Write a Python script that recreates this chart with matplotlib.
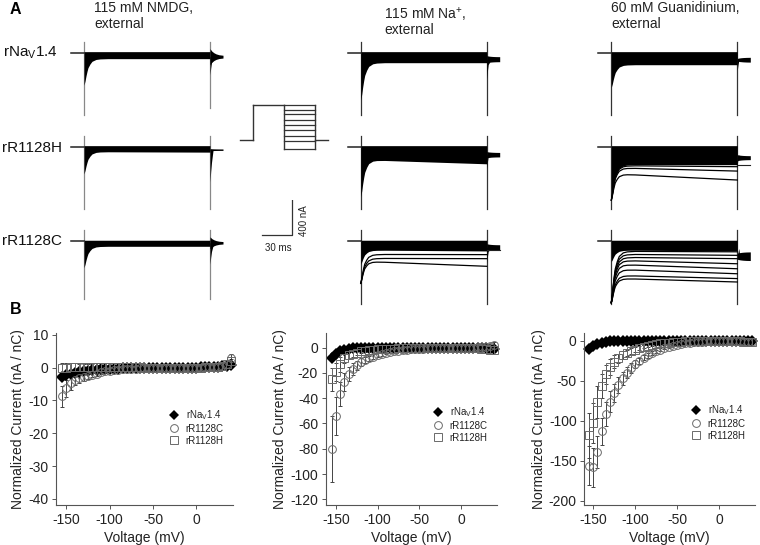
import matplotlib
matplotlib.use("Agg")
import matplotlib.pyplot as plt
import numpy as np
from matplotlib.lines import Line2D

plt.rcParams['font.family'] = ['Liberation Sans', 'DejaVu Sans']
plt.rcParams['mathtext.fontset'] = 'custom'
plt.rcParams['mathtext.rm'] = 'Liberation Sans'
plt.rcParams['mathtext.default'] = 'rm'
plt.rcParams['axes.unicode_minus'] = False

W, H = 760, 545

# ---------- panel B data ----------
voltage = list(range(-155, 45, 5))  # 40 points

wt1 = [-2.8,-2.2,-1.8,-1.5,-1.2,-1.0,-.85,-.7,-.6,-.5,-.4,-.35,-.3,-.25,-.2,-.18,-.15,-.12,-.1,-.1,
       -.08,-.06,-.05,-.04,-.03,-.02,-.01,0,0,0,.02,.05,.08,.1,.15,.2,.3,.45,.6,.9]
c1 = [-8.7,-6.3,-4.8,-3.7,-3.2,-2.8,-2.5,-2.1,-1.8,-1.4,-1.1,-.9,-.7,-.55,-.45,-.35,-.3,-.25,-.2,-.15,
      -.12,-.1,-.08,-.05,-.03,-.02,0,0,0,0,0,.03,.05,.08,.1,.15,.3,.6,1.2,3.0]
c1e = [3.2,2.7,2.0,1.6,1.4,1.2,1.0,.8,.7,.6,.5,.4,.3,.25,.2,.15,.1,.1,.1,.1,
       .1,.1,.1,.1,.1,.1,.1,.1,.1,.1,.1,.1,.1,.1,.1,.15,.2,.4,.7,1.3]
h1 = [-.2,0,.1,.2,.25,.3,.3,.3,.3,.3,.3,.3,.25,.2,.2,.15,.1,.1,.1,.05,
      .05,0,0,0,0,0,0,0,0,0,0,.03,.05,.08,.1,.15,.25,.5,1.0,2.0]
h1e = [1.6,1.4,1.2,1.1,1.0,.9,.8,.7,.6,.5,.45,.4,.3,.25,.2,.15,.1,.1,.1,.1,
       .1,.1,.1,.1,.1,.1,.1,.1,.1,.1,.1,.1,.1,.1,.1,.15,.2,.3,.5,.8]

wt2 = [-8,-5,-3,-1.5,-.8,-.4,-.3,-.25,-.2,-.2,-.2,-.15,-.15,-.15,-.1,-.1,-.1,-.1,-.1,-.1,
       -.1,-.1,-.1,-.1,-.1,-.1,-.1,-.1,-.1,-.1,-.1,-.2,-.2,-.3,-.3,-.4,-.5,-.6,-.8,-1]
c2 = [-80,-54,-37,-27,-21,-17,-14,-11.5,-10,-8.5,-7,-6,-5,-4.2,-3.5,-3,-2.5,-2.1,-1.7,-1.4,
      -1.1,-.9,-.7,-.5,-.4,-.3,-.2,-.1,-.1,0,0,0,0,.1,.1,.2,.3,.5,1,2]
c2e = [26,15,9.5,7,5.5,4.5,3.5,3,2.5,2.2,2,1.7,1.4,1.2,1,.8,.7,.6,.5,.4,
       .3,.3,.2,.2,.2,.2,.2,.2,.2,.2,.2,.2,.2,.2,.2,.3,.4,.6,1,2.5]
h2 = [-25,-19,-13,-8.5,-6,-5,-4,-3,-2.5,-2,-1.7,-1.4,-1.2,-1,-.8,-.7,-.6,-.5,-.4,-.3,
      -.3,-.2,-.2,-.2,-.1,-.1,-.1,-.1,-.1,-.1,-.1,-.2,-.3,-.4,-.5,-.6,-.8,-1,-1.5,-2]
h2e = [9,7,6,4,3,2.5,2,1.6,1.3,1.1,.9,.8,.7,.6,.5,.4,.3,.3,.2,.2,
       .2,.2,.2,.2,.2,.2,.2,.2,.2,.2,.2,.2,.2,.2,.2,.3,.4,.5,.8,1.5]

wt3 = [-10,-6.5,-4,-2.5,-1.5,-1,-.8,-.6,-.5,-.4,-.4,-.3,-.3,-.3,-.3,-.3,-.2,-.2,-.2,-.2,
       -.2,-.2,-.2,-.2,-.2,-.2,-.2,-.2,-.2,-.2,-.2,-.2,-.2,-.3,-.3,-.3,-.4,-.4,-.5,-.5]
c3 = [-156,-158,-139,-113,-92,-76,-65,-55,-47,-40,-34,-29,-25,-21,-18,-15,-13,-11,-9,-7.5,
      -6,-5,-4,-3.3,-2.6,-2,-1.6,-1.2,-1,-.8,-.6,-.5,-.5,-.5,-.6,-.8,-1,-1.3,-1.6,-2]
c3e = [24,24,20,17,15,13,11,10,8,7,6,5,4,3.5,3,2.5,2,1.8,1.5,1.2,
       1,.8,.7,.6,.5,.4,.3,.3,.3,.3,.3,.3,.3,.3,.3,.3,.3,.4,.5,.6]
h3 = [-118,-103,-77,-56,-42,-33,-26,-22,-18,-15,-13,-11,-9,-7.5,-6,-5,-4.2,-3.5,-2.9,-2.4,
      -2,-1.6,-1.3,-1,-.8,-.6,-.5,-.4,-.3,-.3,-.3,-.3,-.4,-.5,-.6,-.7,-.9,-1.1,-1.3,-1.5]
h3e = [28,25,20,15,12,10,8,6,5,4,3.5,3,2.5,2,1.7,1.4,1.2,1,.8,.7,
       .6,.5,.4,.4,.3,.3,.3,.3,.3,.3,.3,.3,.3,.3,.3,.3,.3,.4,.4,.5]

yticks1 = [10, 0, -10, -20, -30, -40]
yticks2 = [0, -20, -40, -60, -80, -100, -120]
yticks3 = [0, -50, -100, -150, -200]
xticks = [-150, -100, -50, 0]
series_names = ['rNa$_{\\mathrm{V}}$1.4', 'rR1128C', 'rR1128H']

# ---------- panel A data (nA, ms) ----------
row_names = ['rNa$_{\\mathrm{V}}$1.4', 'rR1128H', 'rR1128C']
step_off = 126
stub_t = -13
tail_t = [126, 127, 128, 130, 132, 135, 139]
tail_frac = [1, .8, .62, .4, .25, .12, .05]
decay_t = [0, 1, 2, 3, 4, 6, 8, 12, 16, 24, 126]
decay_frac = [1, .85, .65, .48, .34, .2, .1, .03, .01, 0, 0]
time_grid = [0, .5, 1, 1.5, 2, 2.5, 3, 3.5, 4, 5, 6, 7, 8, 10, 12, 14, 16, 20, 24, 40, 60, 80, 100, 126]

band_start = [[68, 57, 57], [114, 148, 100], [137, 205, 100]]
band_end = [[68, 62, 57], [114, 195, 110], [137, 205, 110]]
spike_peak = [[370, 310, 300], [540, 570, 260], [395, 610, 230]]
line_peak = [[0, 0, 0], [0, 0, 480], [0, 610, 700]]
line_top = [[120, 120, 125], [120, 120, 125], [120, 120, 125]]
line_bottom = [[712, 712, 660], [712, 712, 712], [712, 712, 712]]
off_bottom = [[633, 712, 660], [712, 712, 712], [712, 712, 712]]
off_peak = [[250, 400, 260], [300, 250, 250], [200, 200, 180]]
tail_center = [[45, 34, 17], [74, 91, 68], [80, 125, 170]]
tail_half0 = [[91, 12, 68], [40, 35, 40], [15, 34, 34]]
tail_half1 = [[12, 8, 11], [28, 25, 28], [28, 22, 50]]
tail_lines = [[[], [], []], [[], [], [100]], [[], [205], []]]
extra_start = [[[], [], []],
               [[], [], [150, 195, 228]],
               [[], [216, 240, 308], [114, 148, 182, 216, 262, 319, 388, 422]]]
extra_end = [[[], [], []],
             [[], [], [152, 198, 285]],
             [[], [228, 278, 380], [120, 160, 198, 256, 313, 370, 425, 464]]]

rungs_mv = [40, 16, 0, -24, -48, -72, -96, -120, -155]
hold_mv = -115
prepulse_mv = 40
proto_t = [-44, -31, 0, 31, 44]  # ms relative to rung onset

fig = plt.figure(figsize=(W/100, H/100), dpi=100)
fig.patch.set_facecolor('white')


def pxaxes(x0, y0, x1, y1):
    return fig.add_axes([x0/W, 1-y1/H, (x1-x0)/W, (y1-y0)/H])


# ---- traces ----
col_step = [84, 360.7, 611.3]
row_base = [52.7, 146.7, 241.3]
NA_PX = 11.4
t = np.array(time_grid, dtype=float)
for c in range(3):
    for r in range(3):
        x0 = col_step[c]
        yb = row_base[r]
        ax = pxaxes(x0-20, yb-20, x0+150, yb+70)
        ax.set_xlim(-20, 150)
        ax.set_ylim(70*NA_PX, -20*NA_PX)
        ax.axis('off')
        vcol = '#888888' if c == 0 else '#333333'
        frac = np.interp(t, decay_t, decay_frac)
        bs, be = band_start[c][r], band_end[c][r]
        level = bs + (be-bs)*t/step_off
        lower = level + (spike_peak[c][r]-level)*frac
        ax.plot([0, 0], [-line_top[c][r], line_bottom[c][r]], color=vcol, lw=.9, zorder=1)
        ax.plot([step_off]*2, [-line_top[c][r], off_bottom[c][r]], color=vcol, lw=.9, zorder=1)
        ax.fill_between(t, -12, lower, color='black', lw=0, zorder=2)
        ax.plot([stub_t, 0], [0, 0], color='#222222', lw=1.1, zorder=3)
        for s, e in zip(extra_start[c][r], extra_end[c][r]):
            lv = s + (e-s)*t/step_off
            ax.plot(t, lv + (line_peak[c][r]-lv)*frac, color='black', lw=.9, zorder=3)
        tf = np.array(tail_frac)
        half = tail_half1[c][r] + (tail_half0[c][r]-tail_half1[c][r])*tf
        ctr = tail_center[c][r]
        ax.fill_between(tail_t, ctr-half, ctr+half, color='black', lw=0, zorder=2)
        ax.fill_between([126, 126.7, 127.5, 129], [ctr]*4,
                        [off_peak[c][r], off_peak[c][r]*.7, off_peak[c][r]*.45, ctr+half[3]],
                        color='black', lw=0, zorder=2)
        for lv in tail_lines[c][r]:
            ax.plot([tail_t[0], tail_t[-1]], [lv, lv], color='#222222', lw=.8, zorder=3)

# ---- protocol ----
axp = pxaxes(233, 100, 335, 155)
axp.set_xlim(-51.3, 50.7)
axp.set_ylim(40-(155-105)*4.4, 40+5*4.4)
axp.axis('off')
ink = '#333333'
axp.plot(proto_t[:2], [hold_mv]*2, color=ink, lw=1)
axp.plot([proto_t[1]]*2, [hold_mv, prepulse_mv], color=ink, lw=1)
axp.plot([proto_t[1], proto_t[2]], [prepulse_mv]*2, color=ink, lw=1)
for v in rungs_mv:
    axp.plot([proto_t[2], proto_t[3]], [v, v], color=ink, lw=.9)
axp.plot([proto_t[2]]*2, [rungs_mv[0], rungs_mv[-1]], color=ink, lw=1)
axp.plot([proto_t[3]]*2, [rungs_mv[0], rungs_mv[-1]], color=ink, lw=1)
axp.plot(proto_t[3:], [hold_mv]*2, color=ink, lw=1)

# ---- scale bar ----
axs = pxaxes(255, 200, 300, 240)
axs.set_xlim(-7, 38)
axs.set_ylim(-5*NA_PX, 35*NA_PX)
axs.axis('off')
axs.plot([0, 30, 30], [0, 0, 400], color=ink, lw=.9)

# ---- text ----
T = lambda x, y, s, **k: fig.text(x/W, 1-y/H, s, va='center', **k)
T(10, 9.5, 'A', fontsize=11.5, fontweight='bold')
T(10, 309, 'B', fontsize=11.5, fontweight='bold')
T(94, 8, '115 mM NMDG,', fontsize=10, color='#222222')
T(94, 24, 'external', fontsize=10, color='#222222')
T(384, 14, '115 mM Na$^{+}$,', fontsize=10, color='#222222')
T(384, 30, 'external', fontsize=10, color='#222222')
T(611, 8, '60 mM Guanidinium,', fontsize=10, color='#222222')
T(611, 24, 'external', fontsize=10, color='#222222')
T(3, 53, row_names[0], fontsize=11, color='#111111')
T(2, 148, row_names[1], fontsize=11, color='#111111')
T(2, 241, row_names[2], fontsize=11, color='#111111')
T(278, 248, '30 ms', ha='center', fontsize=7, color='#222222')
fig.text(304/W, 1-221/H, '400 nA', rotation=90, ha='center', va='center', fontsize=7, color='#222222')


# ---- I-V plots ----
def iv(box, xlim, ylim, yt, wt, c, ce, h, he, leg):
    ax = pxaxes(*box)
    ax.set_xlim(*xlim)
    ax.set_ylim(*ylim)
    gray = '#6a6a6a'
    ax.errorbar(voltage, h, yerr=he, fmt='s', ms=5.2, mfc='none', mec=gray, mew=.7,
                ecolor='#444444', elinewidth=.7, capsize=1.5, capthick=.6, clip_on=False)
    ax.errorbar(voltage, c, yerr=ce, fmt='o', ms=5.6, mfc='none', mec=gray, mew=.7,
                ecolor='#444444', elinewidth=.7, capsize=1.5, capthick=.6, clip_on=False)
    ax.plot(voltage, wt, 'D', ms=5.8, color='black', mew=0, clip_on=False)
    for s in ('top', 'right'):
        ax.spines[s].set_visible(False)
    for s in ('left', 'bottom'):
        ax.spines[s].set_linewidth(.8)
        ax.spines[s].set_color('#555555')
    ax.set_xticks(xticks)
    ax.set_yticks(yt)
    ax.tick_params(axis='both', labelsize=10, length=3, width=.7, pad=2.5, color='#555555', labelcolor='#222222')
    ax.set_xlabel('Voltage (mV)', fontsize=10, labelpad=3, color='#222222')
    ax.set_ylabel('Normalized Current (nA / nC)', fontsize=10, labelpad=leg[2], color='#222222')
    handles = [Line2D([], [], ls='', marker='D', ms=5.4, color='black', mew=0),
               Line2D([], [], ls='', marker='o', ms=5.6, mfc='none', mec=gray, mew=.7),
               Line2D([], [], ls='', marker='s', ms=5.2, mfc='none', mec=gray, mew=.7)]
    ax.legend(handles, series_names, loc='upper left', bbox_to_anchor=(leg[0], leg[1]),
              bbox_transform=fig.transFigure, frameon=False, fontsize=7, labelspacing=.2,
              handletextpad=.25, borderpad=0, borderaxespad=0, labelcolor='#222222')
    return ax


iv((56, 333, 233, 505), (-162, 42.5), (-41.9, 10.6), yticks1, wt1, c1, c1e, h1, h1e, (164/W, 1-408/H, 2))
iv((325.7, 333, 496.7, 505), (-162.4, 43), (-124.5, 11.6), yticks2, wt2, c2, c2e, h2, h2e, (428/W, 1-405/H, 2))
iv((584.3, 333, 755, 505), (-160.7, 43), (-205, 9.6), yticks3, wt3, c3, c3e, h3, h3e, (686/W, 1-403/H, 2))

fig.savefig('out.png', dpi=100)
